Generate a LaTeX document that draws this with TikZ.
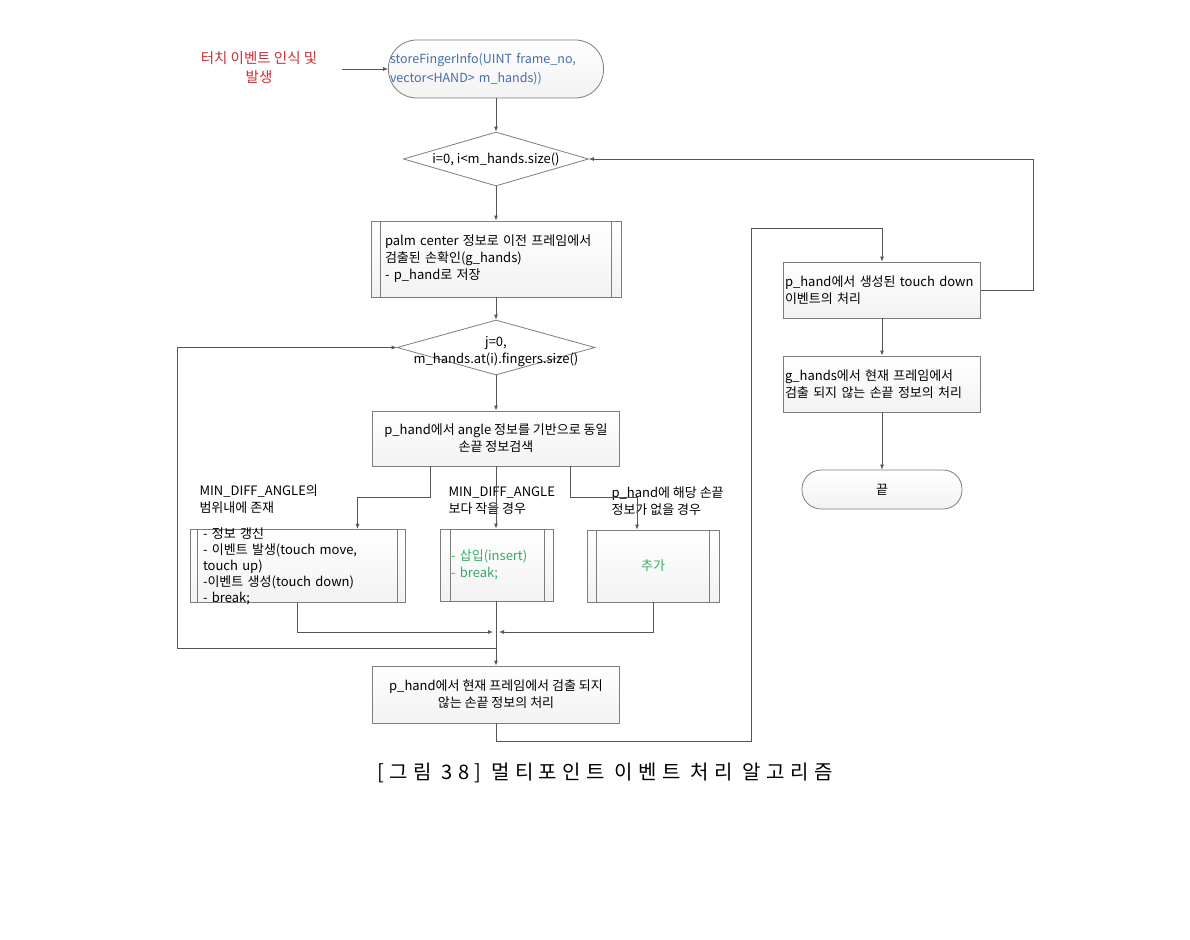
\documentclass[tikz,border=0pt]{standalone}
\usepackage{fontspec}
\setmainfont{Noto Sans CJK KR}
\newfontfamily\capfont[LetterSpace=27]{Noto Sans CJK KR}
\usetikzlibrary{calc,arrows.meta,shapes.geometric}
\definecolor{linegray}{RGB}{85,85,85}
\definecolor{boxgray}{RGB}{125,125,125}
\definecolor{triggerred}{RGB}{205,45,55}
\definecolor{startblue}{RGB}{70,110,170}
\definecolor{actgreen}{RGB}{55,170,100}
\newcommand\boxfont{\fontsize{13}{17}\selectfont}
\def\subbars(#1)(#2){\draw[boxline] ($(#1.north west)+(#2,0)$) -- ($(#1.south west)+(#2,0)$);
  \draw[boxline] ($(#1.north east)+(-#2,0)$) -- ($(#1.south east)+(-#2,0)$);}
\tikzset{
  flow/.style={draw=linegray, line width=0.8pt, -{Latex[length=5pt,width=4pt]}},
  boxline/.style={draw=boxgray, line width=0.8pt},
  procbox/.style={rectangle, draw=boxgray, line width=0.8pt, top color=white, bottom color=gray!10,
    font=\boxfont, align=center, inner sep=1.5pt},
  subproc/.style={procbox, align=left},
  decision/.style={diamond, draw=boxgray, line width=0.8pt, fill=white, inner sep=0pt},
  terminal/.style={procbox, rounded corners=28pt},
}

\begin{document}
\begin{tikzpicture}[x=1pt,y=-1pt]
  \useasboundingbox (0,0) rectangle (1190,939);

  %%%%% main column %%%%%
  \node[font=\fontsize{14.5}{19}\selectfont, align=center, text=triggerred] (trigger) at (259,68) {터치 이벤트 인식 및\\발생};
  \coordinate (tail) at (342,69);
  \node[terminal, minimum height=58pt, text width=212pt, align=left, text=startblue,
    font=\fontsize{12.5}{19}\selectfont] (start) at (496,69)
    {storeFingerInfo(UINT frame\_no,\\vector<HAND> m\_hands))};

  \node[decision, minimum width=185pt, minimum height=54pt] (iloop) at (496,159) {};
  \node[font=\boxfont] (iloopText) at (iloop) {i=0, i<m\_hands.size()};

  \node[subproc, text width=222pt, inner xsep=14pt, minimum height=76pt] (palm) at (496,259)
    {palm center 정보로 이전 프레임에서\\검출된 손확인(g\_hands)\\- p\_hand로 저장};
  \subbars(palm)(10)

  \node[decision, minimum width=198pt, minimum height=55pt] (jloop) at (496,347.5) {};
  \node[font=\boxfont, align=center] (jloopText) at (496,352) {j=0,\\m\_hands.at(i).fingers.size()};

  \node[procbox, minimum width=247pt, minimum height=55pt] (search) at (496,438.5)
    {p\_hand에서 angle 정보를 기반으로 동일\\손끝 정보검색};

  %%%%% branches %%%%%
  \node[font=\boxfont, align=left, anchor=west] (condA) at (196,499) {MIN\_DIFF\_ANGLE의\\범위내에 존재};
  \node[font=\boxfont, align=left, anchor=west] (condB) at (445,501) {MIN\_DIFF\_ANGLE\\보다 작을 경우};
  \node[font=\boxfont, align=left, anchor=west] (condC) at (608,501) {p\_hand에 해당 손끝\\정보가 없을 경우};

  \node[subproc, text width=189pt, inner xsep=13pt, inner ysep=-2pt, font=\fontsize{13}{16}\selectfont] (actA) at (297.5,566)
    {- 정보 갱신\\- 이벤트 발생(touch move,\\touch up)\\-이벤트 생성(touch down)\\- break;};
  \subbars(actA)(8)

  \node[subproc, text width=92pt, inner xsep=10.5pt, minimum height=72pt, text=actgreen] (actB) at (497,565)
    {- 삽입(insert)\\- break;};
  \subbars(actB)(10)

  \node[procbox, minimum width=132pt, minimum height=72pt, text=actgreen] (actC) at (653,566) {추가};
  \subbars(actC)(10)

  \node[procbox, minimum width=247pt, minimum height=57pt] (remain) at (496,694.5)
    {p\_hand에서 현재 프레임에서 검출 되지\\않는 손끝 정보의 처리};

  %%%%% right column %%%%%
  \node[subproc, text width=194pt, minimum height=56pt] (touch) at (882,290)
    {p\_hand에서 생성된 touch down\\이벤트의 처리};
  \node[subproc, text width=194pt, minimum height=56pt] (release) at (882,384)
    {g\_hands에서 현재 프레임에서\\검출 되지 않는 손끝 정보의 처리};
  \node[terminal, minimum width=160pt, minimum height=39pt, rounded corners=19pt] (finish) at (882,489.5) {끝};

  %%%%% connectors %%%%%
  \draw[flow] (tail) -- (start.west);
  \draw[flow] (start.south) -- (iloop.north);
  \draw[flow] (iloop.south) -- (palm.north);
  \draw[flow] (palm.south) -- (jloop.north);
  \draw[flow] (jloop.south) -- (search.north);
  \draw[flow] ([xshift=-66pt]search.south) -- ++(0,31) -| ([xshift=60pt]actA.north);
  \draw[flow] (search.south) -- (actB.north -| search.south);
  \draw[flow] ([xshift=74pt]search.south) -- ++(0,31) -| ([xshift=-16pt]actC.north);

  \coordinate (merge) at (496,632);
  \draw[flow] (actA.south) |- ([xshift=-3pt]merge);
  \draw[flow] (actC.south) |- ([xshift=3pt]merge);
  \draw[flow] (actB.south -| remain.north) -- (remain.north);

  \coordinate (loopx) at (177,648);
  \draw[flow] (loopx -| remain.north) -- (loopx) |- (jloop.west);

  \coordinate (upx) at (751,228);
  \draw[flow] (remain.south) -- ++(0,18) -| (upx) -| (touch.north);
  \draw[flow] (touch.east) -- ++(52,0) |- (iloop.east);
  \draw[flow] (touch.south) -- (release.north);
  \draw[flow] (release.south) -- (finish.north);

  %%%%% caption %%%%%
  \node[font=\capfont\fontsize{20}{23}\selectfont] (caption) at (605,773) {[그림 38] 멀티포인트 이벤트 처리 알고리즘};
\end{tikzpicture}
\end{document}
